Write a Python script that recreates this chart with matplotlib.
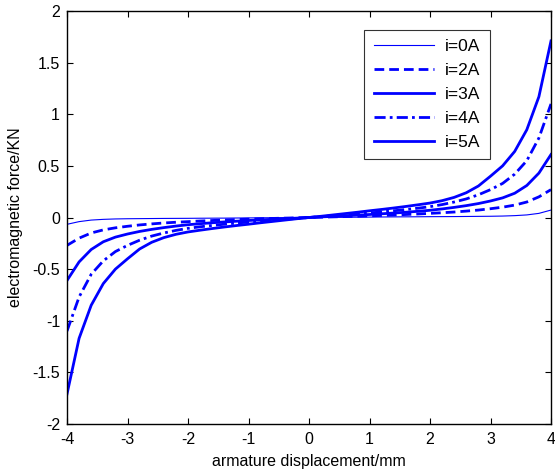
import numpy as np
import matplotlib
matplotlib.use("Agg")
import matplotlib.pyplot as plt

plt.rcParams['font.family'] = ['Liberation Sans', 'DejaVu Sans']

x = [-4.0, -3.8, -3.6, -3.4, -3.2, -3.0, -2.8, -2.6, -2.4, -2.2, -2.0,
     -1.8, -1.6, -1.4, -1.2, -1.0, -0.8, -0.6, -0.4, -0.2, 0.0,
     0.2, 0.4, 0.6, 0.8, 1.0, 1.2, 1.4, 1.6, 1.8, 2.0,
     2.2, 2.4, 2.6, 2.8, 3.0, 3.2, 3.4, 3.6, 3.8, 4.0]

f_i0 = [-0.066, -0.040, -0.025, -0.018, -0.014, -0.012, -0.011, -0.010, -0.009, -0.0085, -0.008,
        -0.007, -0.0065, -0.006, -0.005, -0.004, -0.003, -0.002, -0.0015, -0.0008, 0.0,
        0.0008, 0.0015, 0.002, 0.003, 0.004, 0.005, 0.006, 0.0065, 0.007, 0.008,
        0.0085, 0.009, 0.010, 0.011, 0.012, 0.014, 0.018, 0.025, 0.040, 0.072]
f_i2 = [-0.27, -0.20, -0.15, -0.12, -0.10, -0.085, -0.072, -0.062, -0.053, -0.046, -0.040,
        -0.034, -0.029, -0.024, -0.020, -0.016, -0.012, -0.009, -0.006, -0.003, 0.0,
        0.003, 0.006, 0.009, 0.012, 0.016, 0.020, 0.024, 0.029, 0.034, 0.040,
        0.046, 0.053, 0.062, 0.072, 0.085, 0.10, 0.12, 0.15, 0.20, 0.27]
f_i3 = [-0.61, -0.43, -0.31, -0.235, -0.19, -0.16, -0.135, -0.115, -0.098, -0.083, -0.070,
        -0.060, -0.051, -0.043, -0.036, -0.029, -0.023, -0.017, -0.011, -0.006, 0.0,
        0.006, 0.011, 0.017, 0.023, 0.029, 0.036, 0.043, 0.051, 0.060, 0.070,
        0.083, 0.098, 0.115, 0.135, 0.16, 0.19, 0.235, 0.31, 0.43, 0.61]
f_i4 = [-1.10, -0.77, -0.55, -0.42, -0.33, -0.27, -0.22, -0.18, -0.15, -0.125, -0.105,
        -0.090, -0.077, -0.065, -0.054, -0.044, -0.035, -0.026, -0.017, -0.009, 0.0,
        0.009, 0.017, 0.026, 0.035, 0.044, 0.054, 0.065, 0.077, 0.090, 0.105,
        0.125, 0.15, 0.18, 0.22, 0.27, 0.33, 0.42, 0.55, 0.77, 1.10]
f_i5 = [-1.71, -1.17, -0.85, -0.64, -0.50, -0.40, -0.305, -0.24, -0.195, -0.163, -0.14,
        -0.123, -0.107, -0.092, -0.078, -0.065, -0.051, -0.038, -0.025, -0.012, 0.0,
        0.012, 0.025, 0.038, 0.051, 0.065, 0.078, 0.092, 0.107, 0.123, 0.14,
        0.163, 0.195, 0.24, 0.305, 0.40, 0.50, 0.64, 0.85, 1.17, 1.71]

labels = ["i=0A", "i=2A", "i=3A", "i=4A", "i=5A"]
xticks = [-4, -3, -2, -1, 0, 1, 2, 3, 4]
yticks = [-2, -1.5, -1, -0.5, 0, 0.5, 1, 1.5, 2]
ytick_labels = ["-2", "-1.5", "-1", "-0.5", "0", "0.5", "1", "1.5", "2"]

fig = plt.figure(figsize=(5.55, 4.73), dpi=100)
ax = fig.add_axes([67/555, 1-424/473, 484/555, 413/473])

blue = (0, 0, 1)
ax.plot(x, f_i0, color=blue, lw=0.8, ls='-', label=labels[0])
ax.plot(x, f_i2, color=blue, lw=2, ls=(0, (3.5, 1.8)), label=labels[1])
ax.plot(x, f_i3, color=blue, lw=2, ls='-', label=labels[2])
ax.plot(x, f_i4, color=blue, lw=2, ls=(0, (4, 1.5, 1, 1.5)), label=labels[3])
ax.plot(x, f_i5, color=blue, lw=2, ls='-', label=labels[4])

ax.set_xlim(-4, 4)
ax.set_ylim(-2, 2)
ax.set_xticks(xticks)
ax.set_xticklabels([str(t) for t in xticks])
ax.set_yticks(yticks)
ax.set_yticklabels(ytick_labels)
ax.tick_params(direction='in', top=True, right=True, length=4, width=0.8,
               labelsize=11.5)
ax.tick_params(axis='x', pad=6)
ax.tick_params(axis='y', pad=5)
for s in ax.spines.values():
    s.set_linewidth(1.0)

ax.set_xlabel("armature displacement/mm", fontsize=11.5, labelpad=5)
ax.set_ylabel("electromagnetic force/KN", fontsize=11.5, labelpad=7)

leg = ax.legend(loc='upper left', bbox_to_anchor=(0.614, 0.955), fontsize=12.5,
                frameon=True, fancybox=False, edgecolor='black',
                handlelength=3.5, handletextpad=0.6, labelspacing=0.5,
                borderpad=0.55, borderaxespad=0)
leg.get_frame().set_linewidth(0.8)

fig.savefig("out.png", dpi=100)
